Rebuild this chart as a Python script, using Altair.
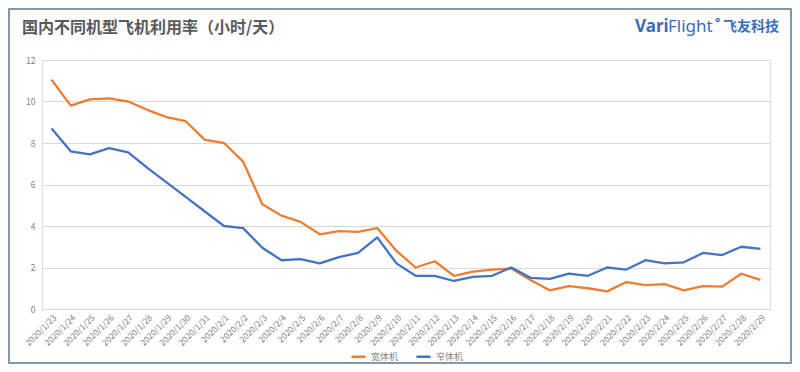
import altair as alt
import pandas as pd

dates = ["2020/1/23", "2020/1/24", "2020/1/25", "2020/1/26", "2020/1/27", "2020/1/28",
         "2020/1/29", "2020/1/30", "2020/1/31"] + [f"2020/2/{d}" for d in range(1, 30)]

wide_body = [11.05, 9.8, 10.1, 10.15, 10.0, 9.6, 9.25, 9.05, 8.15, 8.0, 7.1,
             5.05, 4.5, 4.2, 3.6, 3.75, 3.72, 3.9, 2.8, 2.0, 2.3, 1.6, 1.8, 1.9,
             1.95, 1.4, 0.9, 1.1, 1.0, 0.85, 1.3, 1.15, 1.2, 0.9, 1.1, 1.08, 1.7, 1.4]
narrow_body = [8.7, 7.6, 7.45, 7.75, 7.55, 6.8, 6.1, 5.4, 4.7, 4.0, 3.9,
               2.95, 2.35, 2.4, 2.2, 2.5, 2.7, 3.45, 2.2, 1.6, 1.6, 1.35, 1.55, 1.6,
               2.0, 1.5, 1.45, 1.7, 1.6, 2.0, 1.9, 2.35, 2.2, 2.25, 2.7, 2.6, 3.0, 2.9]

series_names = ["宽体机", "窄体机"]
series_colors = ["#ED7D31", "#4472C4"]
y_ticks = [0, 2, 4, 6, 8, 10, 12]

rows = []
for i, d in enumerate(dates):
    rows.append({"date": d, "series": series_names[0], "value": wide_body[i], "order": 0})
    rows.append({"date": d, "series": series_names[1], "value": narrow_body[i], "order": 1})
df = pd.DataFrame(rows)

FONT = "Noto Sans CJK SC"
W, H = 728, 249
LOGO = "#3A6DB5"

lines = alt.Chart(df).mark_line(strokeWidth=2.3, strokeJoin="round").encode(
    x=alt.X("date:N", sort=dates, scale=alt.Scale(type="point", padding=0.5),
            axis=alt.Axis(title=None, labelAngle=-45, labelFontSize=8.5, labelColor="#7f7f7f",
                          ticks=False, domain=True, domainColor="#d9d9d9", grid=False,
                          labelPadding=4, labelFont=FONT)),
    y=alt.Y("value:Q", scale=alt.Scale(domain=[0, 12], nice=False),
            axis=alt.Axis(title=None, values=y_ticks, labelFontSize=8.5, labelColor="#7f7f7f",
                          ticks=False, domain=False, gridColor="#d9d9d9", gridWidth=1,
                          labelPadding=7, labelFont=FONT)),
    color=alt.Color("series:N", scale=alt.Scale(domain=series_names, range=series_colors),
                    legend=alt.Legend(title=None, orient="none", legendX=308, legendY=288,
                                      direction="horizontal", symbolType="stroke",
                                      symbolStrokeWidth=2.5, symbolSize=200,
                                      labelFontSize=9, labelColor="#7f7f7f", labelFont=FONT,
                                      columnPadding=12)),
    order="order:Q",
)

title = alt.Chart(pd.DataFrame({"t": ["国内不同机型飞机利用率（小时/天）"]})).mark_text(
    align="left", baseline="middle", fontSize=16, fontWeight="bold", color="#595959", font=FONT
).encode(text="t:N", x=alt.value(-20), y=alt.value(-32))


def logo_text(txt, x, size, weight, font, dy=0):
    return alt.Chart(pd.DataFrame({"t": [txt]})).mark_text(
        align="left", baseline="middle", fontSize=size, fontWeight=weight, color=LOGO, font=font
    ).encode(text="t:N", x=alt.value(x), y=alt.value(-33 + dy))


logo_a = logo_text("Vari", 593, 17, "bold", "Noto Sans")
logo_b = logo_text("Flight", 626, 17, "normal", "Noto Sans")
logo_c = logo_text("°", 673, 12, "bold", "Noto Sans", dy=-4)
logo_d = logo_text("飞友科技", 681, 14, "bold", FONT)

border = alt.Chart(pd.DataFrame({"a": [0]})).mark_rect(
    fill=None, stroke="#8497B0", strokeWidth=2
).encode(x=alt.value(-33), x2=alt.value(W + 21), y=alt.value(-51), y2=alt.value(H + 54))

chart = alt.layer(border, lines, title, logo_a, logo_b, logo_c, logo_d).properties(
    width=W, height=H,
    autosize=alt.AutoSizeParams(type="none"),
    padding={"left": 34, "top": 52, "right": 22, "bottom": 55},
).configure_view(stroke=None).configure(background="white")

chart.save("out.html", embed_options={"renderer": "svg", "actions": False})
